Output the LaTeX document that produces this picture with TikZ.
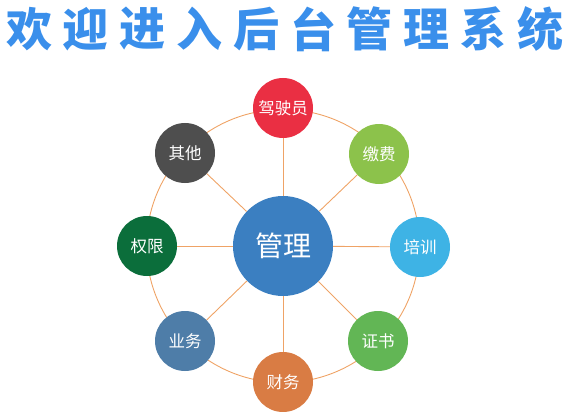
\documentclass[tikz,border=0pt]{standalone}
\usepackage{fontspec}
\newfontfamily\cjk{Noto Sans CJK SC}
\definecolor{linec}{HTML}{EFA366}
\definecolor{titlec}{HTML}{3A8FEB}
\definecolor{cmain}{HTML}{3B7FC1}
\definecolor{cred}{HTML}{EA2F43}
\definecolor{cgreenl}{HTML}{8CC24B}
\definecolor{cblue}{HTML}{3EB3E5}
\definecolor{cgreen}{HTML}{62B655}
\definecolor{corange}{HTML}{D97C44}
\definecolor{csteel}{HTML}{4E7DA8}
\definecolor{cdark}{HTML}{0B6E3B}
\definecolor{cgray}{HTML}{4E4E4E}
\tikzset{
  ring/.style={draw=linec, line width=0.9pt},
  spoke/.style={draw=linec, line width=0.9pt},
  outer/.style={circle, minimum size=60pt, inner sep=0pt, text=white, font=\cjk\fontsize{16.5}{16.5}\selectfont},
  hub/.style={circle, minimum size=100pt, inner sep=0pt, fill=cmain, text=white, font=\cjk\fontsize{28}{28}\selectfont},
  ttl/.style={text=titlec, font=\cjk\bfseries\fontsize{46}{46}\selectfont, inner sep=0pt}
}
\begin{document}
\begin{tikzpicture}[x=1pt,y=-1pt]
\useasboundingbox (0,0) rectangle (571,412);
% title
\foreach \ch [count=\i] in {欢,迎,进,入,后,台,管,理,系,统}
  \node[ttl] (t\i) at ({29+56.8*(\i-1)},29) {\ch};
% ring
\coordinate (c) at (283,246);
\draw[ring] (c) circle (136.5);
% nodes
\node[hub] (m) at (c) {管理};
\node[outer, fill=cred]    (n1) at (283,108) {驾驶员};
\node[outer, fill=cgreenl] (n2) at (379,154) {缴费};
\node[outer, fill=cblue]   (n3) at (420,247) {培训};
\node[outer, fill=cgreen]  (n4) at (378,341) {证书};
\node[outer, fill=corange] (n5) at (283,382) {财务};
\node[outer, fill=csteel]  (n6) at (185,341) {业务};
\node[outer, fill=cdark]   (n7) at (147,246) {权限};
\node[outer, fill=cgray]   (n8) at (185,153) {其他};
\foreach \k in {1,...,8}
  \draw[spoke] (m) -- (n\k);
\end{tikzpicture}
\end{document}
